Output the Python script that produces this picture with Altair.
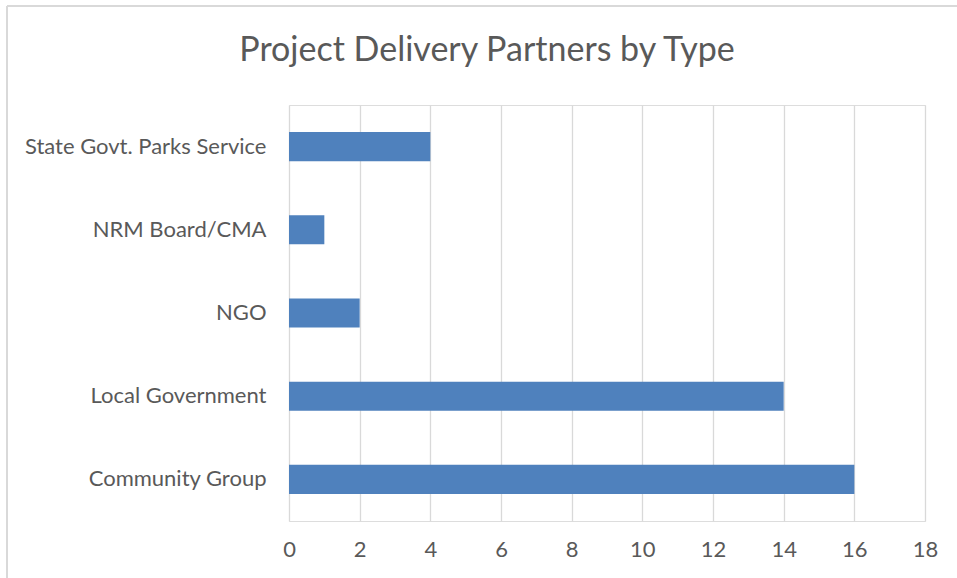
import altair as alt
import pandas as pd

categories = ["State Govt. Parks Service", "NRM Board/CMA", "NGO", "Local Government", "Community Group"]
values = [4, 1, 2, 14, 16]
x_ticks = [0, 2, 4, 6, 8, 10, 12, 14, 16, 18]

df = pd.DataFrame({"type": categories, "count": values})

FONT = "Lato"
GRAY = "#595959"

bars = alt.Chart(df).mark_bar(color="#4F81BD").encode(
    x=alt.X("count:Q",
            scale=alt.Scale(domain=[0, 18], nice=False),
            axis=alt.Axis(values=x_ticks, title=None, domain=False, ticks=False,
                          grid=True, gridColor="#D9D9D9", gridWidth=1.3,
                          labelFontSize=22, labelColor=GRAY, labelFont=FONT,
                          labelFlush=False, labelPadding=18)),
    y=alt.Y("type:N", sort=categories,
            scale=alt.Scale(paddingInner=0.65, paddingOuter=0.325),
            axis=alt.Axis(title=None, domain=False, ticks=False, grid=False,
                          labelFontSize=22, labelColor=GRAY, labelFont=FONT,
                          labelPadding=23, labelLimit=400)),
)

left_border = alt.Chart(df).mark_rule(color="#D9D9D9", strokeWidth=2).encode(
    x=alt.value(-282), y=alt.value(-99), y2=alt.value(480)
)
top_border = alt.Chart(df).mark_rule(color="#D9D9D9", strokeWidth=2).encode(
    x=alt.value(-282), x2=alt.value(680), y=alt.value(-99)
)

chart = alt.layer(bars, left_border, top_border).properties(
    width=636,
    height=416,
    title=alt.TitleParams("Project Delivery Partners by Type", fontSize=34,
                          font=FONT, fontWeight="normal", color=GRAY,
                          anchor="middle", dx=-120, offset=-63),
    autosize=alt.AutoSizeParams(type="none"),
    padding={"left": 289, "top": 105, "right": 32, "bottom": 57},
).configure_view(stroke=None).configure(background="white")

chart.save("out.html", embed_options={"renderer": "svg", "actions": False})
